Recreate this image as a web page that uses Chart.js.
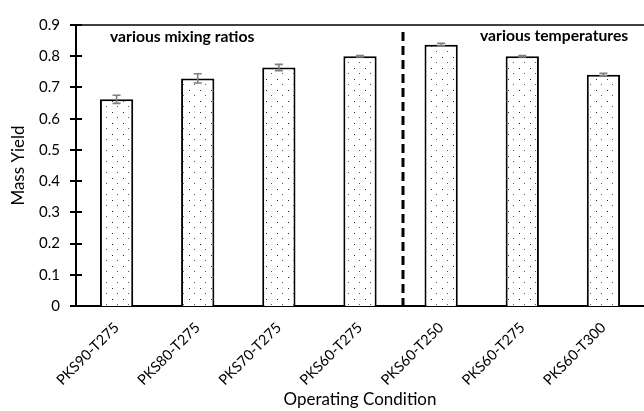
<!DOCTYPE html>
<html>
<head>
<meta charset="utf-8">
<script src="https://cdn.jsdelivr.net/npm/chart.js@4"></script>
<style>
  html, body { margin: 0; padding: 0; background: #fff; }
  #wrap { width: 644px; height: 411px; position: relative; }
</style>
</head>
<body>
<div id="wrap"><canvas id="c" width="644" height="411"></canvas></div>
<script>
const categories = ["PKS90-T275", "PKS80-T275", "PKS70-T275", "PKS60-T275", "PKS60-T250", "PKS60-T275", "PKS60-T300"];
const massYield = [0.662, 0.729, 0.764, 0.800, 0.837, 0.800, 0.741];
const errors = [0.013, 0.015, 0.010, 0.002, 0.004, 0.002, 0.004];
const yTicks = [0, 0.1, 0.2, 0.3, 0.4, 0.5, 0.6, 0.7, 0.8, 0.9];
const groupLabels = ["various mixing ratios", "various temperatures"];
const FONT = "Lato, 'Open Sans', sans-serif";

// dotted pattern
const tile = document.createElement('canvas');
tile.width = 11; tile.height = 11;
const tc = tile.getContext('2d');
tc.fillStyle = '#fff'; tc.fillRect(0, 0, 11, 11);
tc.fillStyle = '#222'; tc.fillRect(2, 2, 1, 1);
tc.fillStyle = '#555'; tc.fillRect(7, 7, 1, 1);
const ctx = document.getElementById('c').getContext('2d');
const dotPattern = ctx.createPattern(tile, 'repeat');

const extras = {
  id: 'extras',
  afterDraw(chart) {
    const c = chart.ctx, y = chart.scales.y, x = chart.scales.x, a = chart.chartArea;
    c.save();
    // error bars
    c.strokeStyle = '#7f7f7f'; c.lineWidth = 1.6;
    massYield.forEach((v, i) => {
      const px = x.getPixelForValue(i);
      const top = y.getPixelForValue(v + errors[i]);
      const bot = y.getPixelForValue(v - errors[i]);
      c.beginPath();
      c.moveTo(px, top); c.lineTo(px, bot);
      c.moveTo(px - 4, top); c.lineTo(px + 4, top);
      c.moveTo(px - 4, bot); c.lineTo(px + 4, bot);
      c.stroke();
    });
    // top border
    c.strokeStyle = '#000'; c.lineWidth = 1.5;
    c.beginPath(); c.moveTo(a.left, a.top); c.lineTo(a.right, a.top); c.stroke();
    // y tick marks crossing the axis
    c.lineWidth = 2;
    for (let k = 0; k < yTicks.length; k++) {
      const py = Math.round(y.getPixelForValue(yTicks[k]));
      c.beginPath(); c.moveTo(a.left - 6, py); c.lineTo(a.left + 6, py); c.stroke();
    }
    // dashed separator
    const sx = x.getPixelForValue(3.53);
    c.lineWidth = 3; c.setLineDash([9, 5]);
    c.beginPath(); c.moveTo(sx, a.top + 7); c.lineTo(sx, a.bottom + 6); c.stroke();
    c.setLineDash([]);
    // group labels
    c.fillStyle = '#000'; c.font = "bold 15.7px " + FONT; c.textBaseline = 'middle'; c.textAlign = 'left';
    c.fillText(groupLabels[0], 110, 37);
    c.fillText(groupLabels[1], 480, 36);
    c.restore();
  }
};

new Chart(ctx, {
  type: 'bar',
  data: {
    labels: categories,
    datasets: [{
      data: massYield,
      backgroundColor: dotPattern,
      borderColor: '#000',
      borderWidth: 2,
      borderSkipped: 'bottom',
      categoryPercentage: 1,
      barPercentage: 0.41
    }]
  },
  options: {
    responsive: false,
    animation: false,
    devicePixelRatio: 1,
    layout: { padding: { top: 18, right: 0, left: 0, bottom: 0 } },
    plugins: { legend: { display: false }, tooltip: { enabled: false } },
    scales: {
      x: {
        grid: { display: false, drawTicks: false },
        border: { display: true, color: '#000', width: 2 },
        ticks: { minRotation: 45, maxRotation: 45, padding: 13, color: '#000', font: { family: FONT, size: 14.5 } },
        title: { display: true, text: 'Operating Condition', color: '#000', font: { family: FONT, size: 17 }, padding: { top: 0, bottom: 1 } },
        afterFit(s) { s.height = 105; }
      },
      y: {
        min: 0, max: 0.9,
        afterBuildTicks(s) { s.ticks = yTicks.map(v => ({ value: v })); },
        grid: { display: false, drawTicks: false },
        border: { display: true, color: '#000', width: 2 },
        ticks: { padding: 16, color: '#000', font: { family: FONT, size: 15 }, callback: v => String(v) },
        title: { display: true, text: 'Mass Yield', color: '#000', font: { family: FONT, size: 17 }, padding: { top: 8, bottom: 4 } },
        afterFit(s) { s.width = 76; }
      }
    }
  },
  plugins: [extras]
});
</script>
</body>
</html>
